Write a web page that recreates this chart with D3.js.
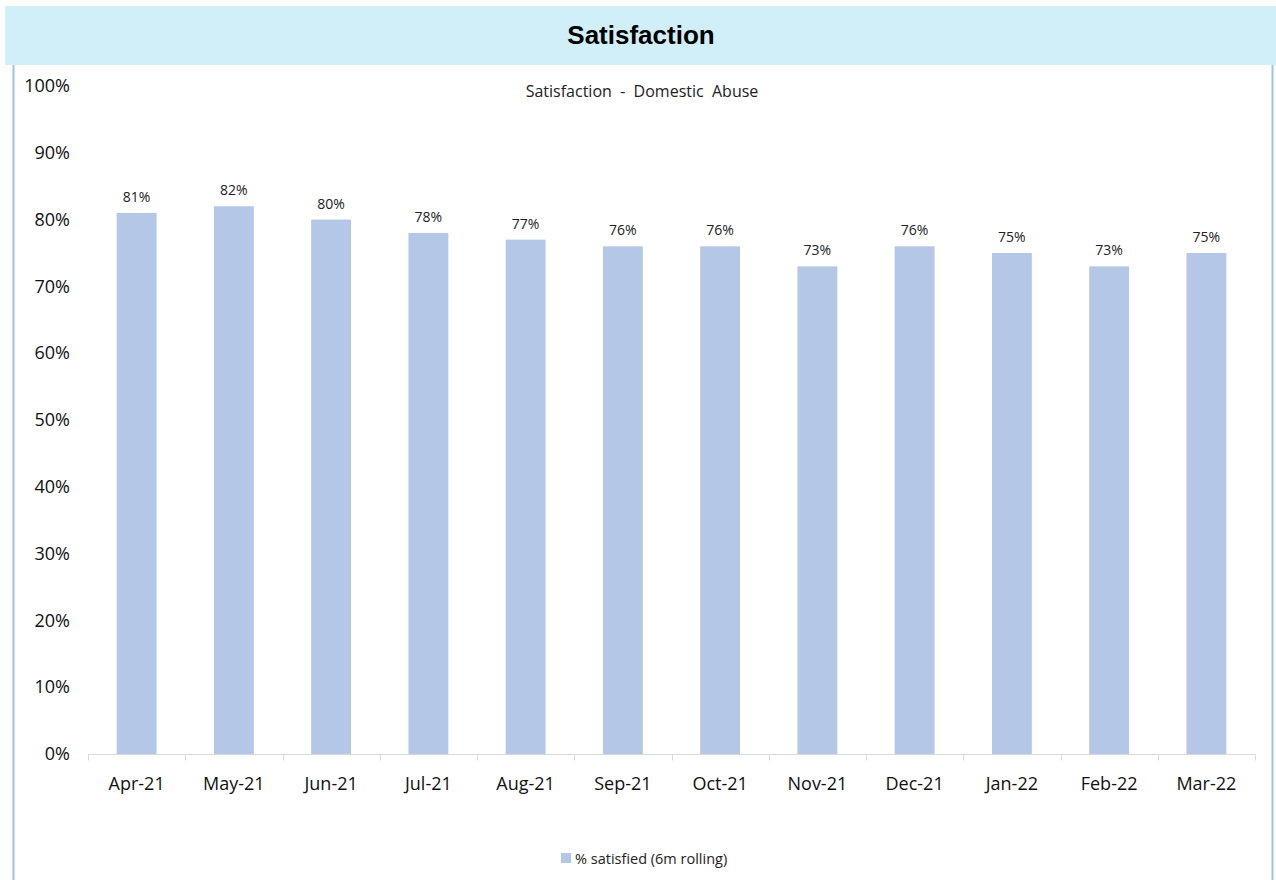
<!DOCTYPE html>
<html>
<head>
<meta charset="utf-8">
<script src="https://cdn.jsdelivr.net/npm/d3@7"></script>
<style>
    body { margin: 0; background: #fff; }
    svg { display: block; }
</style>
</head>
<body>
<div id="space"></div>
<script>
var months = ["Apr-21", "May-21", "Jun-21", "Jul-21", "Aug-21", "Sep-21",
              "Oct-21", "Nov-21", "Dec-21", "Jan-22", "Feb-22", "Mar-22"];
var satisfied = [81, 82, 80, 78, 77, 76, 76, 73, 76, 75, 73, 75];
var yTicks = [0, 10, 20, 30, 40, 50, 60, 70, 80, 90, 100];
var seriesName = "% satisfied (6m rolling)";

var W = 1276, H = 880;
var font = "'Open Sans', 'Noto Sans', sans-serif";

var svg = d3.select("#space").append("svg")
    .attr("width", W)
    .attr("height", H);

//Title band
svg.append("rect")
    .attr("x", 5).attr("y", 6)
    .attr("width", W - 5).attr("height", 59)
    .attr("fill", "#d0eff9");
svg.append("text")
    .attr("x", 641).attr("y", 44)
    .attr("text-anchor", "middle")
    .attr("font-family", "'Liberation Sans', Arial, sans-serif")
    .attr("font-weight", "bold")
    .attr("font-size", 26)
    .attr("fill", "#000")
    .text("Satisfaction");

//Side borders
svg.append("line")
    .attr("x1", 13.5).attr("x2", 13.5).attr("y1", 65).attr("y2", H)
    .attr("stroke", "#9dc3e6").attr("stroke-width", 2);
svg.append("line")
    .attr("x1", 1272.5).attr("x2", 1272.5).attr("y1", 65).attr("y2", H)
    .attr("stroke", "#9dc3e6").attr("stroke-width", 2);

//Chart title
svg.append("text")
    .attr("x", 642).attr("y", 97)
    .attr("text-anchor", "middle")
    .attr("font-family", font)
    .attr("font-size", 16)
    .attr("fill", "#222")
    .attr("xml:space", "preserve")
    .text("Satisfaction  -  Domestic  Abuse");

//Scales
var x = d3.scaleBand().domain(months).range([88, 1255]).paddingInner(0).paddingOuter(0);
var y = d3.scaleLinear().domain([0, 100]).range([754, 86]);
var barW = x.bandwidth() * 0.41;

//Bars
svg.append("g").selectAll("rect")
    .data(satisfied)
    .enter().append("rect")
    .attr("x", function (d, i) { return x(months[i]) + (x.bandwidth() - barW) / 2; })
    .attr("y", function (d) { return y(d); })
    .attr("width", barW)
    .attr("height", function (d) { return y(0) - y(d); })
    .attr("fill", "#b4c7e7");

//Value labels
svg.append("g").selectAll("text")
    .data(satisfied)
    .enter().append("text")
    .attr("x", function (d, i) { return x(months[i]) + x.bandwidth() / 2; })
    .attr("y", function (d) { return y(d) - 11; })
    .attr("text-anchor", "middle")
    .attr("font-family", font)
    .attr("font-size", 14)
    .attr("fill", "#222")
    .text(function (d) { return d + "%"; });

//Y axis labels
var yAxis = d3.axisLeft(y).tickValues(yTicks).tickSize(0).tickPadding(0)
    .tickFormat(function (d) { return d + "%"; });
var gy = svg.append("g").attr("transform", "translate(70,0)").call(yAxis);
gy.select(".domain").remove();
gy.selectAll("text")
    .attr("font-family", font)
    .attr("font-size", 18)
    .attr("fill", "#111");

//X axis
var gx = svg.append("g").attr("transform", "translate(0,754.5)");
gx.append("line")
    .attr("x1", 88).attr("x2", 1255)
    .attr("stroke", "#d9d9d9").attr("stroke-width", 1);
gx.selectAll("line.tick")
    .data(months.concat(["end"]))
    .enter().append("line")
    .attr("class", "tick")
    .attr("x1", function (d, i) { return Math.round(88 + i * x.bandwidth()) + 0.5; })
    .attr("x2", function (d, i) { return Math.round(88 + i * x.bandwidth()) + 0.5; })
    .attr("y1", 0).attr("y2", 6)
    .attr("stroke", "#d9d9d9");
gx.selectAll("text")
    .data(months)
    .enter().append("text")
    .attr("x", function (d) { return x(d) + x.bandwidth() / 2; })
    .attr("y", 35)
    .attr("text-anchor", "middle")
    .attr("font-family", font)
    .attr("font-size", 18)
    .attr("fill", "#111")
    .text(function (d) { return d; });

//Legend
svg.append("rect")
    .attr("x", 561).attr("y", 853)
    .attr("width", 10).attr("height", 10)
    .attr("fill", "#b4c7e7");
svg.append("text")
    .attr("x", 575).attr("y", 864)
    .attr("font-family", font)
    .attr("font-size", 14.5)
    .attr("fill", "#222")
    .text(seriesName);
</script>
</body>
</html>
